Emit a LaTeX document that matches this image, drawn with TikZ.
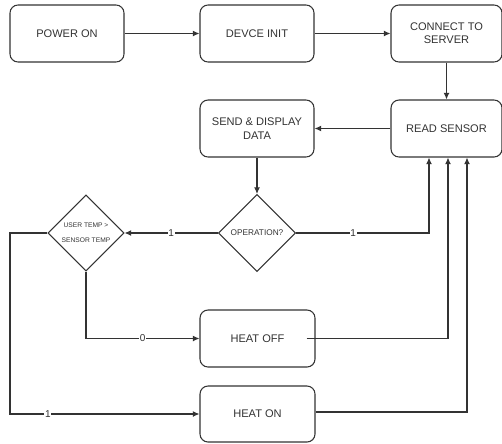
\documentclass[tikz,border=0pt]{standalone}
\usepackage{fontspec}
\setmainfont{Liberation Sans}
\usetikzlibrary{shapes.geometric,arrows.meta}
\definecolor{ink}{HTML}{333333}
\tikzset{
  box/.style={draw=ink, line width=0.8pt, rounded corners=6pt, align=center, text=ink,
    font=\fontsize{8.3}{10}\selectfont, inner sep=0pt},
  dia/.style={draw=ink, line width=0.8pt, diamond, aspect=1, inner sep=0pt, align=center, text=ink,
    minimum width=57.75pt, minimum height=57.75pt},
  arr/.style={draw=ink, line width=0.8pt, -{Latex[length=5pt,width=4.5pt]}},
  ln/.style={draw=ink, line width=0.8pt},
  lbl/.style={fill=white, inner sep=0.5pt, text=ink, font=\fontsize{7.5}{9}\selectfont}
}
\begin{document}
\begin{tikzpicture}[x=0.75pt, y=-0.75pt]
\useasboundingbox (0,0) rectangle (502,443);
\node[box, minimum width=85.5pt, minimum height=42.75pt] (pwr) at (67,33.5) {POWER ON};
\node[box, minimum width=85.5pt, minimum height=42.75pt] (init) at (257,33.5) {DEVCE INIT};
\node[box, minimum width=83.25pt, minimum height=42.75pt] (conn) at (446.5,33.5) {CONNECT TO\\SERVER};
\node[box, minimum width=83.25pt, minimum height=42.75pt] (read) at (446.5,128.5) {READ SENSOR};
\node[box, minimum width=85.5pt, minimum height=42.75pt] (send) at (257,128.5) {SEND \& DISPLAY\\DATA};
\node[dia, font=\fontsize{6.2}{8}\selectfont] (op) at (257,233) {OPERATION?};
\node[dia, minimum width=57pt, minimum height=57pt, font=\fontsize{5}{11.25}\selectfont] (ut) at (86,233) {USER TEMP >\\SENSOR TEMP};
\node[box, minimum width=86.25pt, minimum height=42.75pt] (off) at (257.5,338.5) {HEAT OFF};
\node[box, minimum width=86.25pt, minimum height=42pt] (on) at (257.5,414) {HEAT ON};
\coordinate (ra) at (429,0);
\coordinate (rb) at (448,0);
\coordinate (rc) at (467,0);
\coordinate (lx) at (10,0);
\draw[arr] (pwr) -- (init);
\draw[arr] (init) -- (conn);
\draw[arr] (conn) -- (read);
\draw[arr] (read) -- (send);
\draw[arr] (send) -- (op);
\draw[arr] (op) -- node[lbl]{1} (ut);
\draw[arr] (op.east) -- node[lbl, pos=0.43]{1} (op.east -| ra) -- (read.south -| ra);
\draw[arr] (ut.south) -- (ut.south |- off.west) -- node[lbl]{0} (off.west);
\draw[arr] (ut.west) -- (ut.west -| lx) -- (lx |- on.west) -- node[lbl, pos=0.2]{1} (on.west);
\draw[arr] ([xshift=-6.75pt]off.east) -- (off.east -| rb) -- (read.south -| rb);
\draw[arr] ([yshift=1.5pt]on.east) -- ([yshift=1.5pt]on.east -| rc) -- (read.south -| rc);
\end{tikzpicture}
\end{document}
